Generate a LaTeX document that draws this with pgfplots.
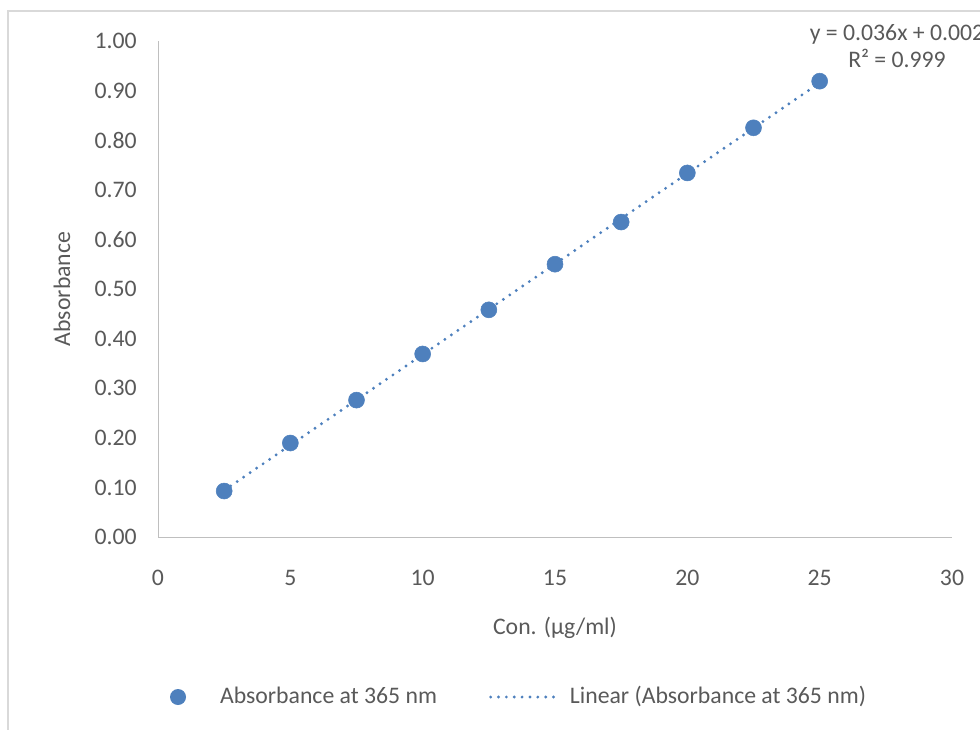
\documentclass[border=0pt]{standalone}
\usepackage{pgfplots}
\pgfplotsset{compat=1.18}
\usepackage{fontspec}
\setmainfont{Carlito}
\definecolor{txt}{HTML}{595959}
\definecolor{axl}{HTML}{BFBFBF}
\definecolor{brd}{HTML}{D9D9D9}
\definecolor{pt}{HTML}{4E80BD}
\begin{document}
\fontsize{17.8}{21}\selectfont
\begin{tikzpicture}[x=0.75pt,y=0.75pt]
\path[use as bounding box,clip] (0,0) rectangle (980,729);
\draw[brd,line width=1.2pt] (8,-20) -- (8,718) -- (1000,718);
\begin{axis}[
  at={(118.5pt,144pt)}, anchor=south west,
  scale only axis, width=595.5pt, height=372pt,
  xmin=0, xmax=30, ymin=0, ymax=1,
  xtick={0,5,...,30},
  ytick={0,0.1,...,1.0},
  yticklabel={\pgfmathprintnumber[fixed,fixed zerofill,precision=2]{\tick}},
  /pgf/number format/assume math mode=true,
  axis lines*=left,
  axis line style={axl,line width=0.75pt},
  separate axis lines,
  x axis line style={-}, y axis line style={-},
  major tick length=0pt,
  tick style={draw=none},
  tick label style={text=txt,font=\fontsize{17.8}{21}\selectfont,inner sep=0pt},
  xticklabel style={anchor=center,yshift=-30.75pt},
  yticklabel style={anchor=east,xshift=-15.75pt},
  xlabel={Con. (µg/ml)},
  ylabel={Absorbance},
  label style={text=txt,font=\fontsize{17.8}{21}\selectfont,inner sep=0pt},
  xlabel style={at={(axis description cs:0.5,-0.1835)},anchor=center},
  ylabel style={at={(axis description cs:-0.1209,0.5)},anchor=center,rotate=0},
  legend columns=2,
  legend style={at={(axis description cs:-0.0214,-0.3226)},anchor=west,
    draw=none,fill=none,inner sep=0pt,outer sep=0pt,
    text=txt,font=\fontsize{17.8}{21}\selectfont,
    nodes={inner xsep=0pt,inner ysep=2pt},
    /tikz/column 1/.style={column sep=5.25pt},
    /tikz/column 2/.style={column sep=39pt},
    /tikz/column 3/.style={column sep=5.25pt}},
  clip=false,
]
\addplot[color=pt,only marks,mark=*,mark size=6pt,mark options={fill=pt,draw=none},
  legend image code/.code={\path[draw=none,fill=none] (0pt,0pt) -- (54pt,0pt);
    \fill[pt,draw=none] (27.75pt,0pt) circle (6pt);}]
  coordinates {
  (2.5,0.0927) (5,0.1895) (7.5,0.276) (10,0.369) (12.5,0.458)
  (15,0.550) (17.5,0.635) (20,0.734) (22.5,0.825) (25,0.919)};
\addlegendentry{Absorbance at 365 nm}
\addplot[pt,line width=2.4pt,line cap=round,dash pattern=on 0pt off 5.9pt,
  legend image code/.code={\draw[pt,line width=2.4pt,line cap=round,dash pattern=on 0pt off 5.9pt] (1pt,0pt) -- (54pt,0pt);}]
  coordinates {(2.5,0.0939) (25,0.9157)};
\addlegendentry{Linear (Absorbance at 365 nm)}
\end{axis}
\node[text=txt,align=center,font=\fontsize{17.8}{20.25}\selectfont,inner sep=0pt] at (897,682.5) {y = 0.036x + 0.002\\R² = 0.999};
\end{tikzpicture}
\end{document}
